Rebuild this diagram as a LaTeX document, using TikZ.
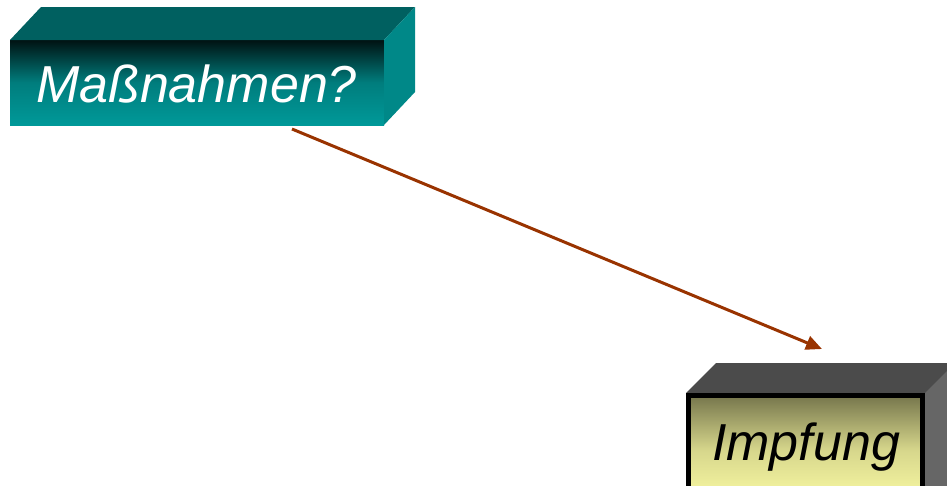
\documentclass[tikz,border=0pt]{standalone}
\usepackage{fontspec}
\setmainfont{Liberation Sans}
\usetikzlibrary{arrows.meta}
\definecolor{tealtop}{RGB}{0,96,96}
\definecolor{tealside}{RGB}{0,136,136}
\definecolor{tealdark}{RGB}{0,18,18}
\definecolor{tealmid}{RGB}{0,125,125}
\definecolor{tealbot}{RGB}{0,153,153}
\definecolor{greytop}{RGB}{75,75,75}
\definecolor{greyside}{RGB}{102,102,102}
\definecolor{olivetop}{RGB}{118,118,76}
\definecolor{olivemid}{RGB}{215,215,140}
\definecolor{yellowbot}{RGB}{252,252,165}
\definecolor{arrowbrown}{RGB}{153,51,0}
\tikzset{
  frontface/.style={inner sep=0pt, outer sep=0pt, minimum width=#1},
  boxtext/.style={inner sep=0pt, anchor=base, font=\fontsize{52}{60}\selectfont\itshape},
  connector/.style={draw=arrowbrown, line width=3pt, -{Triangle[length=16pt,width=14pt]}}
}
\begin{document}
\begin{tikzpicture}[x=1pt,y=-1pt]
\clip (0,0) rectangle (947,485);
% Box 1
\node[frontface=374pt, minimum height=85pt, top color=tealdark, bottom color=tealbot, middle color=tealmid] (f1) at (197,82.5) {};
\fill[tealtop] (f1.north west) -- ++(31,-33) -- ++(374,0) -- (f1.north east) -- cycle;
\fill[tealside] (f1.north east) -- ++(31,-33) -- ++(0,85) -- (f1.south east) -- cycle;
\node[boxtext, text=white] (t1) at (196.5,102) {Maßnahmen?};
% Box 2
\fill[greytop] (686,393) -- ++(30,-30) -- (980,363) -- (960,393) -- cycle;
\fill[greyside] (925,393) -- ++(30,-30) -- ++(0,160) -- (925,523) -- cycle;
\node[frontface=234pt, minimum height=110pt, draw=black, line width=5pt, top color=olivetop, bottom color=yellowbot, middle color=olivemid] (f2) at (805.5,450.5) {};
\node[boxtext, text=black] (t2) at (806,460) {Impfung};
% Connector
\coordinate (a1) at (292,129);
\coordinate (a2) at (822,349);
\draw[connector] (a1) -- (a2);
\end{tikzpicture}
\end{document}
